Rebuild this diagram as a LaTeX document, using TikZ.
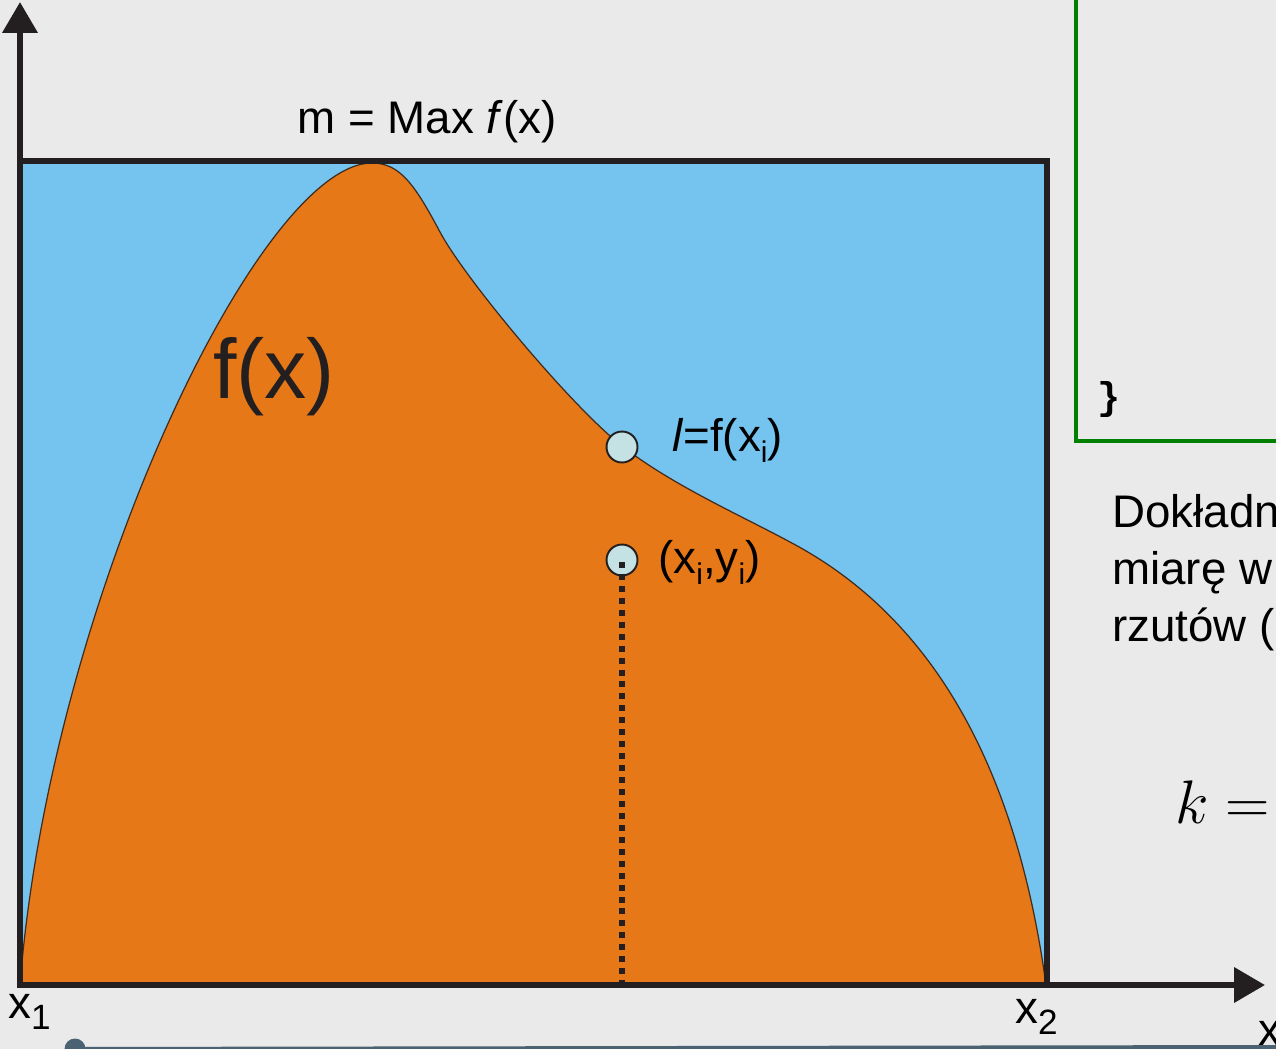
\RequirePackage{fix-cm}
\documentclass[tikz,border=0pt]{standalone}
\usepackage{fontspec}
\setmainfont{Liberation Sans}
\newfontfamily\codefont{Liberation Mono}
\usetikzlibrary{arrows.meta,positioning}
\definecolor{bgray}{HTML}{EAEAEA}
\definecolor{skyb}{HTML}{75C4EF}
\definecolor{orng}{HTML}{E67817}
\definecolor{ptfill}{HTML}{C4E2E4}
\definecolor{codegreen}{HTML}{008000}
\definecolor{slidergray}{HTML}{4A6272}
\definecolor{ink}{HTML}{231F20}
\newcommand{\diagfont}{\fontsize{26pt}{31pt}\selectfont}
\newcommand{\lsub}[2][17pt]{\raisebox{-6.8pt}{\fontsize{#1}{#1}\selectfont #2}}

\begin{document}
\begin{tikzpicture}[x=0.02cm,y=-0.02cm,font=\diagfont,
 axis/.style={draw=ink,line width=3.4pt,-{Triangle[length=17.6pt,width=19.5pt]}},
 pt/.style={draw=ink,circle,line width=1.1pt,fill=ptfill,minimum size=0.62cm,inner sep=0pt},
 lbl/.style={inner sep=0pt,anchor=base west}]
\useasboundingbox (0,0) rectangle (1276,1049);
\fill[bgray] (0,0) rectangle (1276,1049);
\fill[skyb] (20,161) rectangle (1047,985);
\filldraw[fill=orng,draw=ink!85!orng,line width=0.7pt] (20,985) .. controls (50,600) and (260,163) .. (372,163)
 .. controls (400,163) and (415,185) .. (440,232) .. controls (465,279) and (572,407) .. (622,446)
 .. controls (672,485) and (740,515) .. (790,542) .. controls (900,600) and (1010,720) .. (1046,985) -- cycle;
\draw[ink,line width=3.4pt] (20,985) -- (20,161) -- (1047,161) -- (1047,985);
\draw[axis] (20,988) -- (20,2);
\draw[axis] (17,985) -- (1265,985);
\node[inner sep=0pt,anchor=base] (mlbl) at (427,133) {m = Max \textit{f}(x)};
\node[inner sep=0pt,anchor=base,text=ink,font=\fontsize{48pt}{53pt}\selectfont] (flbl) at (274,398) {f(x)};
\node[pt] (pl) at (622,447) {};
\node[pt] (pi) at (622,560) {};
\coordinate (foot) at (622,985);
\draw[ink,line width=3pt,dash pattern=on 3.4pt off 3.4pt] (622,562) -- (foot);
\node[lbl] (pllbl) at (672,451) {\textit{l}=f(x\lsub{i})};
\node[lbl] (pilbl) at (658,573) {(x\lsub{i},y\lsub{i})};
\node[lbl] (xone) at (8,1018) {x\lsub[20pt]{1}};
\node[lbl] (xtwo) at (1015,1023) {x\lsub[20pt]{2}};
\node[lbl] (xaxis) at (1258,1045) {x};
\draw[codegreen,line width=2.3pt] (1076,-10) -- (1076,441) -- (1290,441);
\node[inner sep=0pt,font=\codefont\bfseries\fontsize{22pt}{24pt}\selectfont] (brace) at (1109,399) {\}};
\node[lbl] (txta) at (1112,527) {Dokładn};
\node[lbl] (txtb) at (1112,584) {miarę w};
\node[lbl] (txtc) at (1112,641) {rzutów (};
\node[lbl,font=\fontsize{35pt}{40pt}\selectfont] (keq) at (1175,823) {$k =$};
\node[circle,fill=slidergray,minimum size=0.42cm,inner sep=0pt] (knob) at (75,1049) {};
\coordinate (slend) at (1290,1047);
\draw[slidergray,line width=2.3pt] (knob.center) -- (slend);
\end{tikzpicture}
\end{document}
